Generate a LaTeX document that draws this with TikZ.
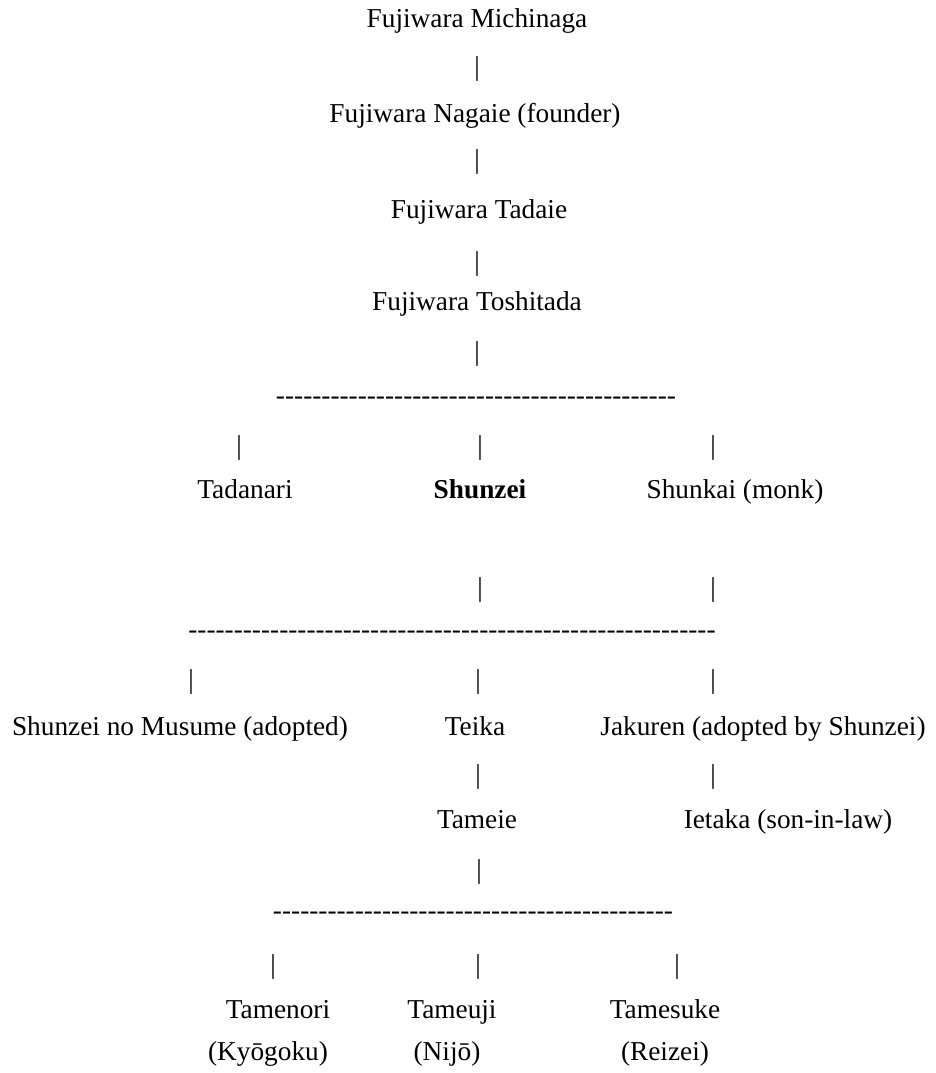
\documentclass[tikz,border=0pt]{standalone}
\usepackage{fontspec}
\setmainfont{Liberation Serif}
\ExplSyntaxOn
\NewDocumentCommand\hyphenrow{m}{\prg_replicate:nn{#1}{\mbox{-}}}
\ExplSyntaxOff
\tikzset{
  person/.style={anchor=base, inner sep=0pt},
  bar/.style={anchor=base, inner sep=0pt},
  hline/.style={anchor=base, inner sep=0pt}
}
\begin{document}
\begin{tikzpicture}[x=0.5pt, y=-0.5pt, every node/.style={font=\fontsize{13.65}{16}\selectfont}]
\useasboundingbox (0,0) rectangle (936,1073);

% main line
\node[person] (michinaga) at (477,27) {Fujiwara Michinaga};
\node[bar] (b1) at (477,75) {|};
\node[person] (nagaie) at (475,122) {Fujiwara Nagaie (founder)};
\node[bar] (b2) at (477,168) {|};
\node[person] (tadaie) at (479,218) {Fujiwara Tadaie};
\node[bar] (b3) at (477,270) {|};
\node[person] (toshitada) at (477,310) {Fujiwara Toshitada};
\node[bar] (b4) at (477,360) {|};
\node[hline] (h1) at (476,404) {\hyphenrow{44}};

% sons of Toshitada
\node[bar] (b5) at (239,454) {|};
\node[bar] (b6) at (480,454) {|};
\node[bar] (b7) at (713,454) {|};
\node[person] (tadanari) at (245,498) {Tadanari};
\node[person] (shunzei) at (480,498) {\bfseries Shunzei};
\node[person] (shunkai) at (735,498) {Shunkai (monk)};
\node[bar] (b8) at (480,596) {|};
\node[bar] (b9) at (713,596) {|};
\node[hline] (h2) at (452,638) {\hyphenrow{58}};

% children of Shunzei
\node[bar] (b10) at (191,688) {|};
\node[bar] (b11) at (478,688) {|};
\node[bar] (b12) at (713,688) {|};
\node[person] (musume) at (180,735) {Shunzei no Musume (adopted)};
\node[person] (teika) at (475,735) {Teika};
\node[person] (jakuren) at (763,735) {Jakuren (adopted by Shunzei)};
\node[bar] (b13) at (478,783) {|};
\node[bar] (b14) at (713,783) {|};
\node[person] (tameie) at (477,828) {Tameie};
\node[person] (ietaka) at (788,828) {Ietaka (son-in-law)};
\node[bar] (b15) at (479,878) {|};
\node[hline] (h3) at (473,919) {\hyphenrow{44}};

% sons of Tameie
\node[bar] (b16) at (273,973) {|};
\node[bar] (b17) at (478,973) {|};
\node[bar] (b18) at (677,973) {|};
\node[person] (tamenori) at (278,1018) {Tamenori};
\node[person] (tameuji) at (452,1018) {Tameuji};
\node[person] (tamesuke) at (665,1018) {Tamesuke};
\node[person] (kyogoku) at (268,1060) {(Kyōgoku)};
\node[person] (nijo) at (447,1060) {(Nijō)};
\node[person] (reizei) at (665,1060) {(Reizei)};
\end{tikzpicture}
\end{document}
